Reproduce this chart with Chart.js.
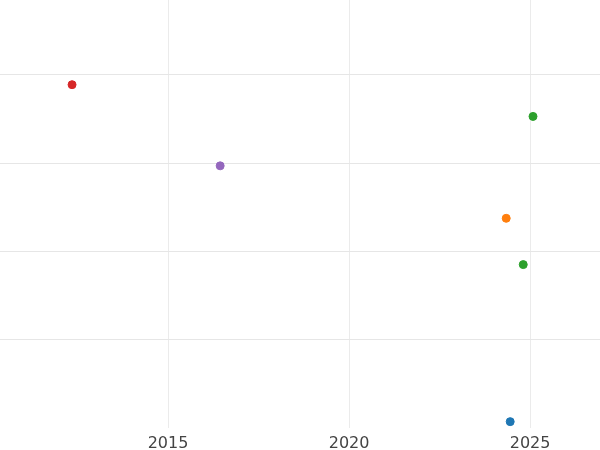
<!DOCTYPE html>
<html><head><meta charset="utf-8">
<script src="https://cdn.jsdelivr.net/npm/chart.js@4/dist/chart.umd.min.js"></script>
<style>html,body{margin:0;padding:0;background:#fff;overflow:hidden}#c{position:absolute;left:-5px;top:-5px;width:610px;height:464px}</style>
</head><body><div id="c"><canvas id="chart"></canvas></div>
<script>
var years = [2012.35, 2016.44, 2025.08, 2024.34, 2024.81, 2024.45];
var values = [3.89, 2.97, 3.53, 2.375, 1.85, 0.07];
var colors = ['#d62728', '#9467bd', '#2ca02c', '#ff7f0e', '#2ca02c', '#1f77b4'];
var xTicks = [2015, 2020, 2025];
var yTicks = [1, 2, 3, 4];

var pts = years.map(function (x, i) { return { x: x, y: values[i] }; });
new Chart(document.getElementById('chart'), {
    type: 'scatter',
    data: { datasets: [{ data: pts, backgroundColor: colors, borderColor: colors, pointRadius: 4 }] },
    options: {
        responsive: true, maintainAspectRatio: false, animation: false,
        layout: { padding: 0 },
        plugins: { legend: { display: false }, tooltip: { enabled: false } },
        scales: {
            x: {
                type: 'linear', min: 2010.36, max: 2026.93,
                afterBuildTicks: function (s) { s.ticks = xTicks.map(function (v) { return { value: v }; }); },
                ticks: { color: '#444', font: { family: 'DejaVu Sans', size: 16 }, padding: 6,
                    callback: function (v) { return String(v); } },
                grid: { color: '#ebebeb', drawTicks: false },
                border: { display: false }
            },
            y: {
                min: 0, max: 4.85,
                afterBuildTicks: function (s) { s.ticks = yTicks.map(function (v) { return { value: v }; }); },
                ticks: { display: false },
                grid: { color: '#e6e6e6', drawTicks: false },
                border: { display: false }
            }
        }
    }
});
</script></body></html>
